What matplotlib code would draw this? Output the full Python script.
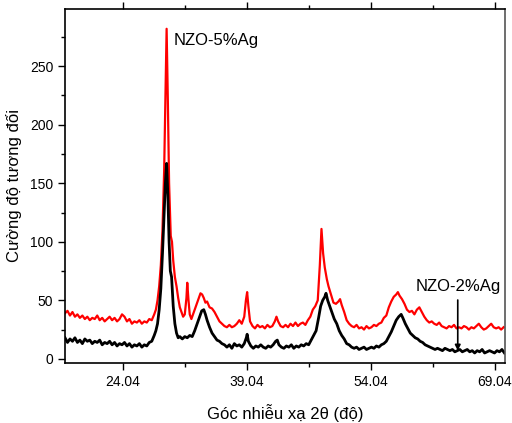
import matplotlib
matplotlib.use('Agg')
import matplotlib.pyplot as plt
from matplotlib.ticker import MultipleLocator, FixedLocator

plt.rcParams['font.family'] = ['Liberation Sans', 'DejaVu Sans']

# NZO-5%Ag pattern
red_x = [17.0, 17.3, 17.6, 17.9, 18.2, 18.5, 18.8, 19.1, 19.4, 19.7, 20.0, 20.3, 20.6, 20.9,
         21.2, 21.5, 21.8, 22.1, 22.4, 22.7, 23.0, 23.3, 23.6, 23.9, 24.2, 24.5, 24.8, 25.1,
         25.4, 25.7, 26.0, 26.3, 26.6, 26.9, 27.2, 27.5, 27.8, 28.0, 28.2, 28.4, 28.6, 28.8,
         29.0, 29.15, 29.3, 29.45, 29.6, 29.8, 29.95, 30.1, 30.3, 30.5, 30.7, 30.9, 31.1, 31.3,
         31.5, 31.7, 31.8, 31.95, 32.1, 32.3, 32.5, 32.8, 33.1, 33.4, 33.6, 33.8, 34.0, 34.2,
         34.5, 34.8, 35.1, 35.4, 35.7, 36.0, 36.3, 36.6, 36.9, 37.2, 37.5, 37.8, 38.1, 38.4,
         38.7, 38.9, 39.05, 39.2, 39.4, 39.7, 40.0, 40.3, 40.6, 40.9, 41.2, 41.5, 41.8, 42.1,
         42.4, 42.6, 42.8, 43.1, 43.4, 43.7, 44.0, 44.3, 44.6, 44.9, 45.2, 45.5, 45.8, 46.1,
         46.4, 46.7, 47.0, 47.3, 47.6, 47.85, 48.05, 48.25, 48.45, 48.7, 48.9, 49.2, 49.5, 49.8,
         50.1, 50.3, 50.5, 50.8, 51.1, 51.4, 51.7, 52.0, 52.3, 52.6, 52.9, 53.2, 53.5, 53.8,
         54.1, 54.4, 54.7, 55.0, 55.3, 55.6, 55.9, 56.2, 56.5, 56.8, 57.1, 57.3, 57.5, 57.8,
         58.1, 58.4, 58.7, 59.0, 59.3, 59.6, 59.9, 60.2, 60.5, 60.8, 61.1, 61.4, 61.7, 62.0,
         62.3, 62.6, 62.9, 63.2, 63.5, 63.8, 64.1, 64.4, 64.7, 65.0, 65.3, 65.6, 65.9, 66.2,
         66.5, 66.8, 67.1, 67.4, 67.7, 68.0, 68.3, 68.6, 68.9, 69.2, 69.5, 69.8, 70.1]
red_y = [39, 41, 37, 40, 36, 38, 35, 37, 34, 36, 33, 35, 34, 37,
         33, 35, 32, 34, 36, 33, 35, 32, 34, 38, 36, 32, 34, 30,
         32, 31, 33, 30, 32, 31, 34, 33, 38, 42, 50, 62, 80, 110,
         160, 220, 282, 220, 150, 105, 100, 84, 70, 62, 52, 44, 40, 36,
         38, 52, 65, 50, 38, 34, 38, 44, 50, 56, 55, 52, 48, 49,
         44, 43, 40, 36, 32, 30, 28, 27, 29, 27, 28, 30, 33, 30,
         36, 50, 57, 45, 32, 28, 26, 29, 27, 28, 26, 29, 27, 28,
         32, 36, 32, 28, 27, 29, 27, 30, 28, 31, 28, 30, 31, 29,
         33, 36, 42, 45, 50, 80, 111, 90, 78, 68, 62, 55, 48, 47,
         49, 51, 46, 40, 33, 30, 28, 27, 29, 26, 27, 25, 28, 26,
         27, 29, 28, 30, 31, 35, 37, 44, 49, 53, 55, 57, 54, 51,
         47, 42, 40, 41, 38, 42, 44, 40, 36, 33, 31, 32, 30, 29,
         31, 28, 27, 26, 28, 27, 29, 26, 27, 26, 28, 27, 25, 27,
         26, 28, 30, 27, 25, 26, 28, 30, 27, 26, 27, 25, 27]

# NZO-2%Ag pattern
black_x = [17.0, 17.3, 17.6, 17.9, 18.2, 18.5, 18.8, 19.1, 19.4, 19.7, 20.0, 20.3, 20.6, 20.9,
           21.2, 21.5, 21.8, 22.1, 22.4, 22.7, 23.0, 23.3, 23.6, 23.9, 24.2, 24.5, 24.8, 25.1,
           25.4, 25.7, 26.0, 26.3, 26.6, 26.9, 27.2, 27.5, 27.8, 28.0, 28.2, 28.4, 28.6, 28.8,
           29.0, 29.15, 29.3, 29.45, 29.6, 29.75, 29.9, 30.1, 30.3, 30.5, 30.7, 30.9, 31.2, 31.5,
           31.8, 32.1, 32.4, 32.7, 33.0, 33.3, 33.55, 33.8, 34.0, 34.2, 34.5, 34.8, 35.1, 35.4,
           35.7, 36.0, 36.3, 36.6, 36.9, 37.2, 37.5, 37.8, 38.1, 38.4, 38.7, 38.95, 39.05, 39.2,
           39.5, 39.8, 40.1, 40.4, 40.7, 41.0, 41.3, 41.6, 41.9, 42.2, 42.5, 42.7, 42.9, 43.2,
           43.5, 43.8, 44.1, 44.4, 44.7, 45.0, 45.3, 45.6, 45.9, 46.2, 46.5, 46.8, 47.1, 47.4,
           47.7, 47.95, 48.2, 48.45, 48.6, 48.8, 49.0, 49.3, 49.6, 49.9, 50.2, 50.5, 50.8, 51.1,
           51.4, 51.7, 52.0, 52.3, 52.6, 52.9, 53.2, 53.5, 53.8, 54.1, 54.4, 54.7, 55.0, 55.3,
           55.6, 55.9, 56.2, 56.5, 56.8, 57.1, 57.4, 57.7, 57.9, 58.2, 58.5, 58.8, 59.1, 59.4,
           59.7, 60.0, 60.3, 60.6, 60.9, 61.2, 61.5, 61.8, 62.1, 62.4, 62.7, 63.0, 63.3, 63.6,
           63.9, 64.2, 64.5, 64.8, 65.1, 65.4, 65.7, 66.0, 66.3, 66.6, 66.9, 67.2, 67.5, 67.8,
           68.1, 68.4, 68.7, 69.0, 69.3, 69.6, 69.9, 70.2]
black_y = [18, 14, 17, 15, 18, 14, 16, 13, 17, 15, 16, 13, 15, 14,
           16, 12, 14, 13, 15, 12, 14, 11, 13, 12, 14, 11, 13, 10,
           12, 11, 13, 10, 12, 11, 14, 15, 20, 24, 30, 42, 60, 90,
           125, 150, 167, 140, 100, 75, 70, 45, 30, 22, 18, 19, 17, 19,
           18, 20, 19, 24, 30, 36, 41, 42, 38, 33, 27, 22, 19, 16,
           15, 13, 12, 10, 12, 9, 13, 11, 12, 10, 13, 18, 21, 15,
           11, 9, 11, 10, 12, 10, 9, 11, 10, 12, 15, 16, 12, 10,
           9, 11, 10, 12, 9, 11, 10, 12, 11, 13, 12, 16, 20, 24,
           35, 45, 50, 53, 56, 50, 46, 40, 34, 30, 24, 20, 17, 13,
           12, 10, 9, 10, 8, 9, 10, 8, 9, 10, 9, 11, 10, 12,
           13, 15, 19, 23, 28, 33, 36, 38, 35, 30, 26, 22, 20, 18,
           17, 15, 14, 12, 11, 10, 9, 8, 9, 8, 7, 9, 8, 7,
           8, 6, 7, 8, 6, 7, 8, 6, 7, 5, 7, 6, 8, 5,
           6, 7, 6, 5, 7, 6, 8, 5]

x_ticks = [24.04, 39.04, 54.04, 69.04]
y_ticks = [0, 50, 100, 150, 200, 250]

fig = plt.figure(figsize=(5.12, 4.23), dpi=100)
ax = fig.add_axes([0.127, 0.142, 0.859, 0.837])

ax.plot(red_x, red_y, color='red', lw=1.6)
ax.plot(black_x, black_y, color='black', lw=2.0)

ax.set_xlim(17.0, 70.25)
ax.set_ylim(-3.5, 299)

ax.xaxis.set_major_locator(FixedLocator(x_ticks))
ax.xaxis.set_minor_locator(FixedLocator([t + 7.5 for t in x_ticks[:-1]] + [16.54]))
ax.set_xticklabels([f'{t:.2f}' for t in x_ticks])
ax.yaxis.set_major_locator(FixedLocator(y_ticks))
ax.yaxis.set_minor_locator(MultipleLocator(25))

ax.tick_params(which='both', direction='out', top=True, right=False, labelsize=10, width=1)
ax.tick_params(which='major', length=5)
ax.tick_params(which='minor', length=3)
for s in ax.spines.values():
    s.set_linewidth(1.2)
ax.spines['right'].set_color('#555555')

ax.set_xlabel('Góc nhiễu xạ 2θ (độ)', fontsize=12, labelpad=11)
ax.set_ylabel('Cường độ tương đối', fontsize=12, labelpad=6)

ax.text(30.1, 272, 'NZO-5%Ag', fontsize=12, va='center', ha='left')
ax.annotate('NZO-2%Ag', xy=(64.55, 7), xytext=(64.55, 55),
            fontsize=12, ha='center', va='bottom',
            arrowprops=dict(arrowstyle='-|>', color='black', lw=1.2,
                            mutation_scale=8, shrinkA=2, shrinkB=0))

fig.savefig('out.png', dpi=100)
